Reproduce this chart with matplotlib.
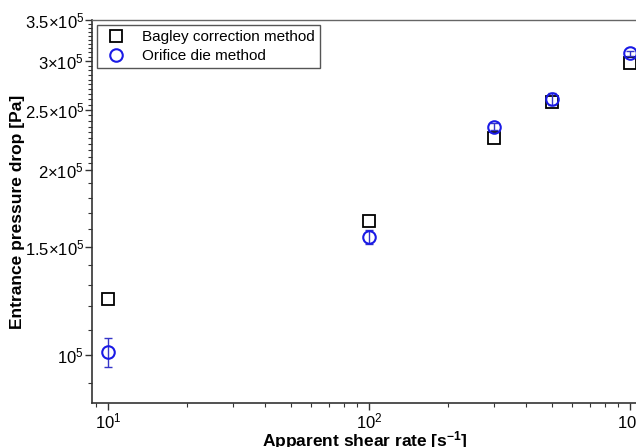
import numpy as np
import matplotlib
matplotlib.use("Agg")
import matplotlib.pyplot as plt
from matplotlib.ticker import FixedLocator, NullFormatter

plt.rcParams["font.family"] = ["Liberation Sans", "DejaVu Sans"]
plt.rcParams["mathtext.fontset"] = "custom"
plt.rcParams["mathtext.rm"] = "Liberation Sans"
plt.rcParams["mathtext.it"] = "Liberation Sans:italic"
plt.rcParams["mathtext.bf"] = "Liberation Sans:bold"

# data
shear_rate = [10, 100, 300, 500, 1000]
bagley = [1.233e5, 1.65e5, 2.255e5, 2.58e5, 2.98e5]
orifice = [1.01e5, 1.555e5, 2.35e5, 2.605e5, 3.09e5]
orifice_err = [0.055e5, 0.04e5, 0.03e5, 0.06e5, 0.03e5]

y_major = [1e5, 1.5e5, 2e5, 2.5e5, 3e5, 3.5e5]
y_major_labels = [r"10$^5$", r"1.5×10$^5$", r"2×10$^5$", r"2.5×10$^5$",
                  r"3×10$^5$", r"3.5×10$^5$"]
x_major = [10, 100, 1000]
x_major_labels = [r"10$^1$", r"10$^2$", r"10$^3$"]

blue = "#1a1ae6"

fig = plt.figure(figsize=(6.36, 4.47), dpi=100)
ax = fig.add_axes([0.1447, 0.0984, 0.879, 0.8569])

ax.plot(shear_rate, bagley, linestyle="none", marker="s", markersize=8,
        markerfacecolor="none", markeredgecolor="black", markeredgewidth=1.3,
        label="Bagley correction method")
ax.errorbar(shear_rate, orifice, yerr=orifice_err, linestyle="none",
            marker="none", ecolor="#3535c8", elinewidth=1.0, capsize=3,
            capthick=1.0)
ax.plot(shear_rate, orifice, linestyle="none", marker="o", markersize=9,
        markerfacecolor="none", markeredgecolor=blue, markeredgewidth=1.5,
        label="Orifice die method")

ax.set_xscale("log")
ax.set_yscale("log")
ax.set_xlim(8.68, 1200)
ax.set_ylim(0.836e5, 3.5e5)

# y ticks
ax.yaxis.set_major_locator(FixedLocator(y_major))
ax.set_yticklabels(y_major_labels)
y_minor = list(np.arange(0.9e5, 2.0e5, 1e4)) + list(np.arange(2.05e5, 3.5e5, 5e3))
y_minor = [v for v in y_minor if v not in y_major]
ax.yaxis.set_minor_locator(FixedLocator(y_minor))
ax.yaxis.set_minor_formatter(NullFormatter())

# x ticks
ax.xaxis.set_major_locator(FixedLocator(x_major))
ax.set_xticklabels(x_major_labels)
x_minor = [9] + list(range(20, 100, 10)) + list(range(200, 1000, 100))
ax.xaxis.set_minor_locator(FixedLocator(x_minor))
ax.xaxis.set_minor_formatter(NullFormatter())

ax.tick_params(axis="both", which="major", direction="out", length=5,
               width=1.0, labelsize=12, colors="#333333", labelcolor="black",
               pad=0.8)
ax.tick_params(axis="both", which="minor", direction="out", length=3,
               width=0.8, colors="#333333")

for side in ["left", "bottom"]:
    ax.spines[side].set_color("#333333")
    ax.spines[side].set_linewidth(1.2)
ax.spines["top"].set_color("#666666")
ax.spines["top"].set_linewidth(1.0)
ax.spines["right"].set_visible(False)

ax.set_xlabel(r"Apparent shear rate [s$^{\mathbf{-1}}$]", fontsize=12.5,
              fontweight="bold")
ax.xaxis.set_label_coords(0.488, -0.068)
ax.set_ylabel("Entrance pressure drop [Pa]", fontsize=12.5, fontweight="bold")
ax.yaxis.set_label_coords(-0.12, 0.5)

leg = ax.legend(loc="upper left", bbox_to_anchor=(5 / 559, 1 - 5 / 383),
                borderaxespad=0, fontsize=11, fancybox=False, framealpha=1,
                edgecolor="#555555", handletextpad=0.8, borderpad=0.35,
                labelspacing=0.3, handlelength=1.8)
leg.get_frame().set_linewidth(1.0)

fig.savefig("out.png", dpi=100)
